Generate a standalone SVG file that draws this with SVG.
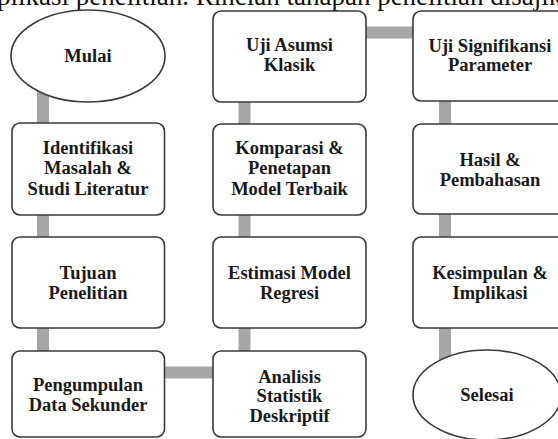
<svg xmlns="http://www.w3.org/2000/svg" width="558" height="439" viewBox="0 0 558 439">
<style>
.bg{fill:#ffffff}
.conn{stroke:#a6a6a6;stroke-width:12;fill:none}
.box{fill:#ffffff;stroke:#3a3a3a;stroke-width:1.6}
.t{font-family:"Liberation Serif","Times New Roman",serif;font-weight:bold;font-size:18.5px;fill:#1a1a1a;text-anchor:middle}
.top{font-family:"Liberation Serif","Times New Roman",serif;font-size:27px;fill:#111}
</style>
<rect class="bg" x="0" y="0" width="558" height="439"/>
<text class="top" x="-3" y="5">plikasi penelitian. Rincian tahapan penelitian disajik</text>
<g id="connectors">
<line class="conn" x1="43" y1="90" x2="43" y2="360"/>
<line class="conn" x1="160" y1="372.5" x2="220" y2="372.5"/>
<line class="conn" x1="244.5" y1="360" x2="244.5" y2="90"/>
<line class="conn" x1="360" y1="32.5" x2="420" y2="32.5"/>
<line class="conn" x1="445" y1="90" x2="445" y2="360"/>
</g>
<g id="mulai"><ellipse class="box" cx="88" cy="56" rx="77" ry="46"/><text class="t" x="88" y="62">Mulai</text></g>
<g id="identifikasi"><rect class="box" x="12" y="123" width="152.5" height="92" rx="8"/><text class="t" x="88" y="154">Identifikasi</text><text class="t" x="88" y="174">Masalah &amp;</text><text class="t" x="88" y="194.5">Studi Literatur</text></g>
<g id="tujuan"><rect class="box" x="12" y="237" width="152.5" height="91" rx="8"/><text class="t" x="88" y="279">Tujuan</text><text class="t" x="88" y="298.5">Penelitian</text></g>
<g id="pengumpulan"><rect class="box" x="12" y="351" width="152.5" height="86" rx="8"/><text class="t" x="88" y="391">Pengumpulan</text><text class="t" x="88" y="411">Data Sekunder</text></g>
<g id="analisis"><rect class="box" x="213" y="351" width="153" height="86" rx="8"/><text class="t" x="289.5" y="383">Analisis</text><text class="t" x="289.5" y="402">Statistik</text><text class="t" x="289.5" y="421.5">Deskriptif</text></g>
<g id="estimasi"><rect class="box" x="213" y="237" width="153" height="91" rx="8"/><text class="t" x="289.5" y="279">Estimasi Model</text><text class="t" x="289.5" y="298.5">Regresi</text></g>
<g id="komparasi"><rect class="box" x="213" y="124" width="153" height="91" rx="8"/><text class="t" x="289.5" y="154">Komparasi &amp;</text><text class="t" x="289.5" y="174">Penetapan</text><text class="t" x="289.5" y="195">Model Terbaik</text></g>
<g id="uji-asumsi"><rect class="box" x="213" y="11" width="153" height="91" rx="8"/><text class="t" x="289.5" y="51">Uji Asumsi</text><text class="t" x="289.5" y="71">Klasik</text></g>
<g id="uji-signifikansi"><rect class="box" x="413" y="11" width="154" height="90" rx="8"/><text class="t" x="490" y="52">Uji Signifikansi</text><text class="t" x="490" y="71">Parameter</text></g>
<g id="hasil"><rect class="box" x="413" y="124" width="154" height="90" rx="8"/><text class="t" x="490" y="166">Hasil &amp;</text><text class="t" x="490" y="186">Pembahasan</text></g>
<g id="kesimpulan"><rect class="box" x="413" y="237" width="154" height="91" rx="8"/><text class="t" x="490" y="279">Kesimpulan &amp;</text><text class="t" x="490" y="298.5">Implikasi</text></g>
<g id="selesai"><ellipse class="box" cx="487" cy="395" rx="74" ry="45"/><text class="t" x="487" y="401">Selesai</text></g>
</svg>
